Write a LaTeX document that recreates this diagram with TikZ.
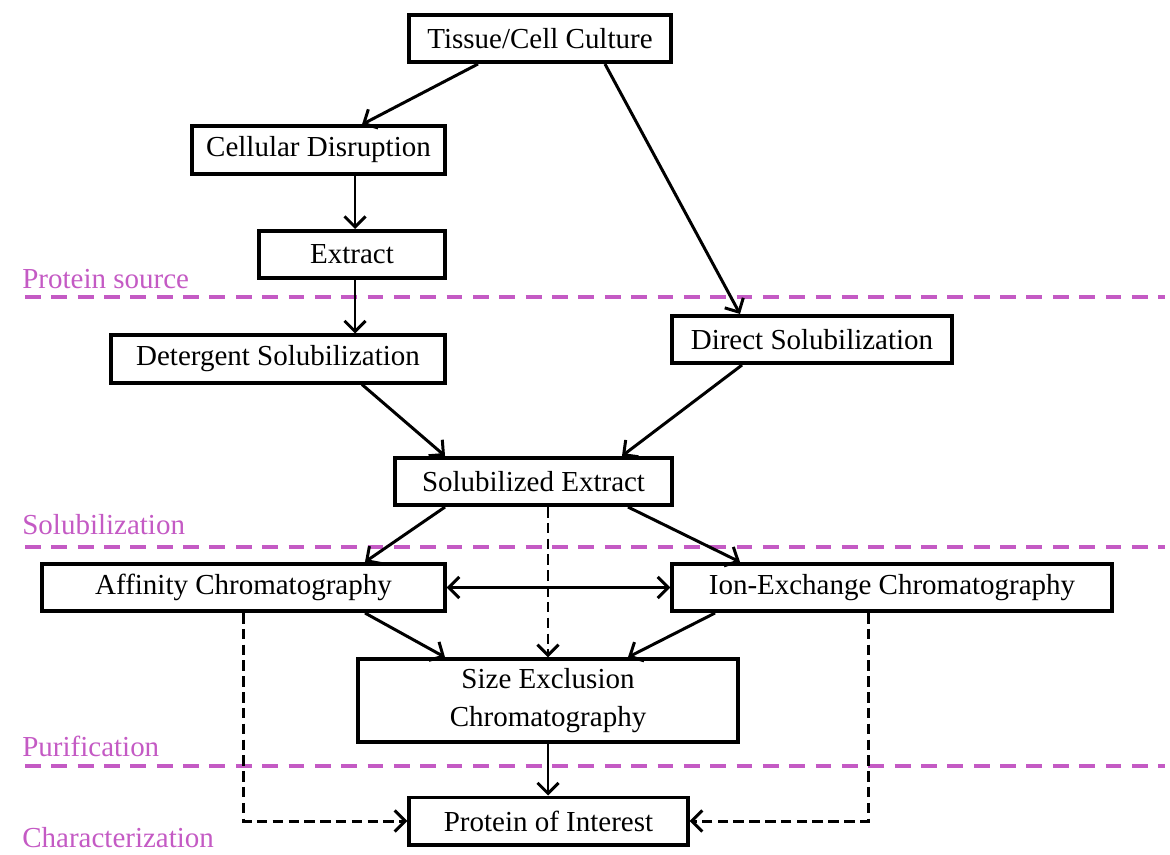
\documentclass[tikz,border=0pt]{standalone}
\usepackage{fontspec}
\setmainfont{Liberation Serif}
\usetikzlibrary{arrows.meta}
\definecolor{stagepink}{RGB}{196,90,196}

\tikzset{
	box/.style={draw,line width=2pt,inner sep=0pt,minimum height=0.95cm,align=center,font=\fontsize{16.5}{22}\selectfont},
	flow/.style={line width=1.7pt,-{Straight Barb[length=6pt,width=12pt,line width=1.7pt]}},
	twoway/.style={line width=1.7pt,{Straight Barb[length=6pt,width=12pt,line width=1.7pt]}-{Straight Barb[length=6pt,width=12pt,line width=1.7pt]}},
	optional/.style={flow,dash pattern=on 6pt off 3pt},
	stageline/.style={stagepink,line width=2pt,dash pattern=on 9pt off 6pt},
	stagelabel/.style={anchor=west,text=stagepink,inner sep=0pt,font=\fontsize{16.5}{20}\selectfont}
}

\begin{document}
\begin{tikzpicture}[x=0.02cm,y=-0.02cm]
		\useasboundingbox (0,0) rectangle (1170,855);
		%stages
			\draw [stageline] (25,297) -- (1165,297);
			\draw [stageline] (25,547) -- (1165,547);
			\draw [stageline] (25,766) -- (1165,766);
			\node [stagelabel] (lsource) at (22,279) {Protein source};
			\node [stagelabel] (lsolub) at (22,525) {Solubilization};
			\node [stagelabel] (lpurif) at (22,746) {Purification};
			\node [stagelabel] (lchar) at (22,838) {Characterization};
		%boxes
			\node [box,minimum width=5.24cm] (tissue) at (540,38.5) {Tissue/Cell Culture};
			\node [box,minimum width=5.06cm] (disrupt) at (318.5,150) {Cellular Disruption};
			\node [box,minimum width=3.72cm] (extract) at (352,254.5) {Extract};
			\node [box,minimum width=6.68cm] (detergent) at (278,359) {Detergent Solubilization};
			\node [box,minimum width=5.6cm] (direct) at (812,339.5) {Direct Solubilization};
			\node [box,minimum width=5.54cm] (solext) at (533.5,481.5) {Solubilized Extract};
			\node [box,minimum width=8.06cm] (affinity) at (243.5,587.5) {Affinity Chromatography};
			\node [box,minimum width=8.8cm] (ionex) at (892,587.5) {Ion-Exchange Chromatography};
			\node [box,minimum width=7.6cm,minimum height=1.66cm] (sizeex) at (548,700.5) {Size Exclusion\\Chromatography};
			\node [box,minimum width=5.58cm] (interest) at (548.5,821) {Protein of Interest};
		%arrows
			\draw [flow] ([xshift=-1.24cm]tissue.south) -- ([xshift=0.87cm]disrupt.north);
			\draw [flow] ([xshift=1.3cm]tissue.south) -- ([xshift=-1.44cm]direct.north);
			\draw [flow] ([xshift=0.06cm]extract.north |- disrupt.south) -- ([xshift=0.06cm]extract.north);
			\draw [flow] ([xshift=0.06cm]extract.south) -- ([xshift=0.06cm]extract.south |- detergent.north);
			\draw [flow] ([xshift=1.68cm]detergent.south) -- ([xshift=-1.77cm]solext.north);
			\draw [flow] ([xshift=-1.4cm]direct.south) -- ([xshift=1.77cm]solext.north);
			\draw [flow] ([xshift=-1.77cm]solext.south) -- ([xshift=2.43cm]affinity.north);
			\draw [flow] ([xshift=1.89cm]solext.south) -- ([xshift=-3.04cm]ionex.north);
			\draw [optional] (sizeex.north |- solext.south) -- (sizeex.north);
			\draw [twoway] (affinity.east) -- (ionex.west);
			\draw [flow] ([xshift=2.43cm]affinity.south) -- ([xshift=-2.06cm]sizeex.north);
			\draw [flow] ([xshift=-3.54cm]ionex.south) -- ([xshift=1.6cm]sizeex.north);
			\draw [flow] (sizeex.south) -- (sizeex.south |- interest.north);
			\draw [optional] (affinity.south) -- (affinity.south |- interest.west) -- (interest.west);
			\draw [optional] ([xshift=-0.48cm]ionex.south) -- ([xshift=-0.48cm]ionex.south |- interest.east) -- (interest.east);
	\end{tikzpicture}
\end{document}
